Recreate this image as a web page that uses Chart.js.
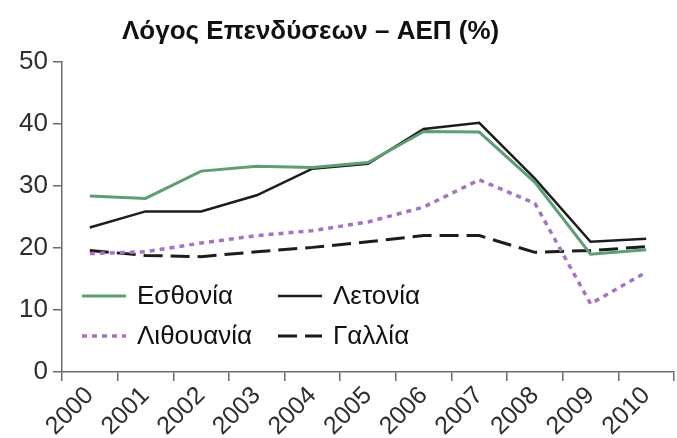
<!DOCTYPE html>
<html>
<head>
<meta charset="utf-8">
<script src="https://cdn.jsdelivr.net/npm/chart.js@4/dist/chart.umd.min.js"></script>
<style>
  html, body { margin: 0; padding: 0; background: #ffffff; }
  #wrap { width: 677px; height: 438px; }
</style>
</head>
<body>
<div id="wrap"><canvas id="chart" width="677" height="438"></canvas></div>
<script>
// --- data ---

const YEARS = ["2000", "2001", "2002", "2003", "2004", "2005", "2006", "2007", "2008", "2009", "2010"];
const ESTONIA = [28.4, 28.0, 32.4, 33.2, 33.0, 33.8, 38.8, 38.7, 30.6, 19.0, 19.7];
const LATVIA = [23.3, 25.9, 25.9, 28.5, 32.8, 33.6, 39.2, 40.2, 31.2, 21.0, 21.5];
const LITHUANIA = [19.1, 19.4, 20.8, 22.0, 22.8, 24.2, 26.6, 31.0, 27.2, 11.0, 16.1];
const FRANCE = [19.6, 18.8, 18.6, 19.4, 20.1, 21.0, 22.0, 22.0, 19.3, 19.6, 20.2];

const TITLE = "Λόγος Επενδύσεων – ΑΕΠ (%)";
const FONT = "'Liberation Sans', Arial, sans-serif";
const AXIS_COLOUR = "#6b6b6b";
const TEXT_COLOUR = "#2e2e2e";

const SERIES = [
  { label: "Εσθονία", data: ESTONIA, color: "#5e9e76", width: 3, dash: [] },
  { label: "Λετονία", data: LATVIA, color: "#1c1c1c", width: 2.5, dash: [] },
  { label: "Λιθουανία", data: LITHUANIA, color: "#a374c2", width: 3.5, dash: [5, 5] },
  { label: "Γαλλία", data: FRANCE, color: "#1c1c1c", width: 3, dash: [19, 8] },
];

// legend slots: column x for sample line, row y
const LEGEND_SLOTS = [
  { x: 82, y: 296 },
  { x: 278, y: 296 },
  { x: 82, y: 336 },
  { x: 278, y: 336 },
];

// --- plugins ---

// title + in-plot legend, drawn by hand so they can sit where the original puts them
const overlayPlugin = {
  id: "overlay",
  afterDraw: function (chart) {
    const ctx = chart.ctx;
    ctx.save();
    ctx.fillStyle = "#111111";
    ctx.font = "bold 26px " + FONT;
    ctx.textBaseline = "middle";
    ctx.textAlign = "left";
    ctx.fillText(TITLE, 122, 32);

    ctx.font = "26px " + FONT;
    SERIES.forEach(function (s, i) {
      const slot = LEGEND_SLOTS[i];
      ctx.beginPath();
      ctx.setLineDash(s.dash);
      ctx.lineWidth = s.width;
      ctx.strokeStyle = s.color;
      ctx.moveTo(slot.x, slot.y);
      ctx.lineTo(slot.x + 44, slot.y);
      ctx.stroke();
      ctx.setLineDash([]);
      ctx.fillStyle = "#111111";
      ctx.fillText(s.label, slot.x + 55, slot.y + 1);
    });
    ctx.restore();
  },
};

// --- chart ---

const chart = new Chart(document.getElementById("chart"), {
  type: "line",
  data: {
    labels: YEARS,
    datasets: SERIES.map(function (s) {
      return {
        label: s.label,
        data: s.data,
        borderColor: s.color,
        borderWidth: s.width,
        borderDash: s.dash,
        pointRadius: 0,
        tension: 0,
        fill: false,
      };
    }),
  },
  options: {
    responsive: false,
    animation: false,
    layout: { padding: { top: 62, right: 3, left: 0, bottom: 0 } },
    plugins: {
      legend: { display: false },
      title: { display: false },
      tooltip: { enabled: false },
    },
    scales: {
      x: {
        offset: true,
        grid: {
          offset: true,
          drawOnChartArea: false,
          drawTicks: true,
          tickLength: 9,
          color: AXIS_COLOUR,
          lineWidth: 1.5,
        },
        border: { display: true, color: AXIS_COLOUR, width: 1.5 },
        ticks: {
          color: TEXT_COLOUR,
          font: { family: FONT, size: 25 },
          maxRotation: 45,
          minRotation: 45,
          padding: 0,
          autoSkip: false,
        },
        afterFit: function (scale) {
          scale.height = 66;
        },
      },
      y: {
        min: 0,
        max: 50,
        ticks: {
          stepSize: 10,
          color: TEXT_COLOUR,
          font: { family: FONT, size: 26 },
          padding: 5,
        },
        grid: {
          drawOnChartArea: false,
          drawTicks: true,
          tickLength: 9,
          color: AXIS_COLOUR,
          lineWidth: 1.5,
        },
        border: { display: true, color: AXIS_COLOUR, width: 1.5 },
        afterFit: function (scale) {
          scale.width = 62;
        },
      },
    },
  },
  plugins: [overlayPlugin],
});
</script>
</body>
</html>
